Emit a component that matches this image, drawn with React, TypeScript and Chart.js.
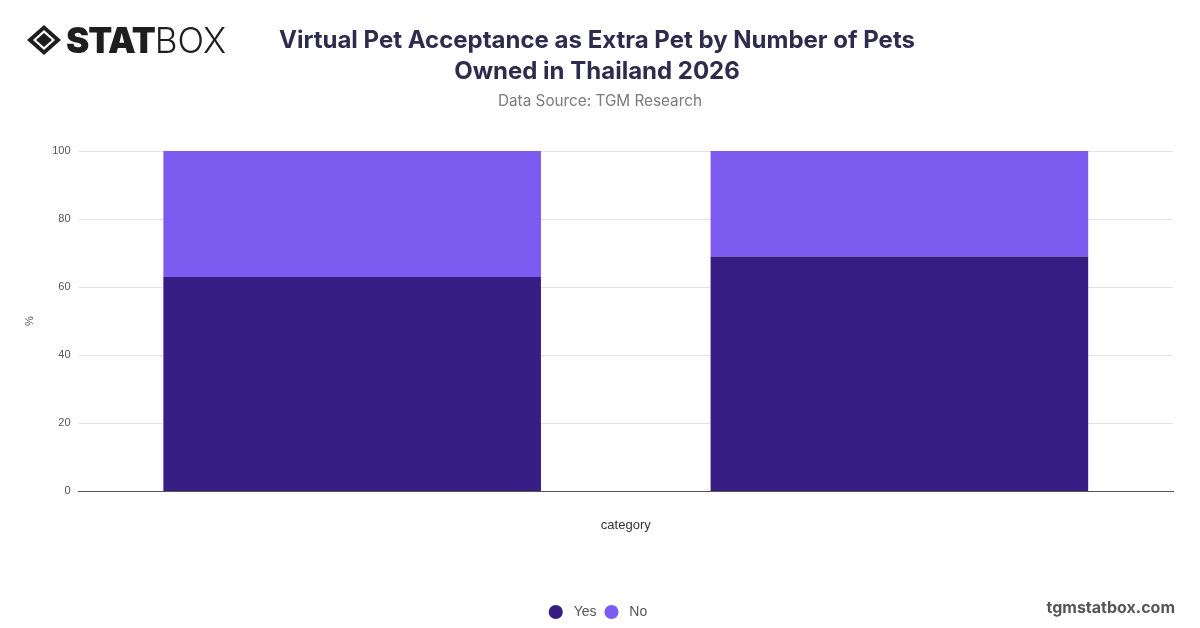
import React, { useEffect, useRef } from "react";
import { Chart, registerables } from "chart.js";

Chart.register(...registerables);

const categories = ["1 pet", "2+ pets"];
const yesValues = [63, 69];
const noValues = [37, 31];
const seriesNames = ["Yes", "No"];
const yTicks = [0, 20, 40, 60, 80, 100];

const YES_COLOR = "#371e85";
const NO_COLOR = "#7c5cf0";

function Logo() {
  return (
    <div style={{ position: "absolute", left: 26, top: 22, display: "flex", alignItems: "center" }}>
      <svg width="36" height="32" viewBox="0 0 36 32">
        <path d="M18 1 L35 16 L18 31 L1 16 Z" fill="#1e1e1e" />
        <path d="M18 6 L29 16 L18 26 L7 16 Z" fill="#fff" />
        <path d="M18 9 L26 16 L18 23 L10 16 Z" fill="#1e1e1e" />
      </svg>
      <span style={{ fontFamily: "Inter, 'DejaVu Sans', sans-serif", fontWeight: 900, fontSize: 35, color: "#1e1e1e", marginLeft: 4, letterSpacing: -1, lineHeight: "36px" }}>STAT</span>
      <span style={{ fontFamily: "Inter, 'DejaVu Sans', sans-serif", fontWeight: 300, fontSize: 35, color: "#1e1e1e", lineHeight: "36px" }}>BOX</span>
    </div>
  );
}

export default function App() {
  const ref = useRef<HTMLCanvasElement | null>(null);
  useEffect(() => {
    document.body.style.margin = "0";
    const ctx = ref.current!;
    const chart = new Chart(ctx, {
      type: "bar",
      data: {
        labels: categories,
        datasets: [
          { label: seriesNames[0], data: yesValues, backgroundColor: YES_COLOR, borderWidth: 0 },
          { label: seriesNames[1], data: noValues, backgroundColor: NO_COLOR, borderWidth: 0 },
        ],
      },
      options: {
        animation: false,
        responsive: false,
        maintainAspectRatio: false,
        layout: { padding: { top: 151, left: 23, right: 27, bottom: -1 } },
        datasets: { bar: { categoryPercentage: 1, barPercentage: 0.69 } },
        plugins: {
          legend: {
            position: "bottom",
            labels: {
              usePointStyle: true,
              pointStyle: "circle",
              boxWidth: 14,
              boxHeight: 10,
              color: "#555",
              font: { family: "'Liberation Sans', Arial, sans-serif", size: 14 },
              padding: 8,
              generateLabels: (c: any) => {
                const items = Chart.defaults.plugins.legend.labels.generateLabels(c);
                return items.map((it: any) => ({ ...it, text: " " + it.text }));
              },
            },
          },
          tooltip: { enabled: false },
        },
        scales: {
          x: {
            stacked: true,
            grid: { display: false },
            border: { color: "#555", width: 1 },
            ticks: { display: false },
            title: {
              display: true,
              text: "category",
              color: "#333",
              font: { family: "'Liberation Sans', Arial, sans-serif", size: 13 },
              padding: { top: 18, bottom: 64 },
            },
          },
          y: {
            stacked: true,
            min: 0,
            max: 100,
            afterBuildTicks: (axis: any) => {
              axis.ticks = yTicks.map((v) => ({ value: v }));
            },
            grid: { color: "#e2e2e2", drawTicks: false },
            border: { display: false },
            ticks: {
              color: "#555",
              padding: 8,
              font: { family: "'Liberation Sans', Arial, sans-serif", size: 11 },
            },
            title: {
              display: true,
              text: "%",
              color: "#555",
              font: { family: "'Liberation Sans', Arial, sans-serif", size: 11 },
              padding: { top: 0, bottom: 8 },
            },
          },
        },
      },
    });
    return () => chart.destroy();
  }, []);

  return (
    <div style={{ position: "relative", width: 1200, height: 628, background: "#fff", overflow: "hidden" }}>
      <canvas ref={ref} width={1200} height={628} style={{ position: "absolute", left: 0, top: 0, width: 1200, height: 628 }} />
      <Logo />
      <div style={{ position: "absolute", left: 247, width: 700, top: 24, textAlign: "center", fontFamily: "Inter, 'Noto Sans', sans-serif", fontWeight: 700, fontSize: 24, lineHeight: "31px", color: "#2f2b4c" }}>
        Virtual Pet Acceptance as Extra Pet by Number of Pets
        <br />
        Owned in Thailand 2026
      </div>
      <div style={{ position: "absolute", left: 250, width: 700, top: 91, textAlign: "center", fontFamily: "Inter, 'Noto Sans', sans-serif", fontSize: 15.3, lineHeight: "20px", color: "#7a7a7a" }}>
        Data Source: TGM Research
      </div>
      <div style={{ position: "absolute", right: 25, top: 596, fontFamily: "Inter, 'Noto Sans', sans-serif", fontWeight: 700, fontSize: 16, lineHeight: "22px", color: "#555" }}>
        tgmstatbox.com
      </div>
    </div>
  );
}
